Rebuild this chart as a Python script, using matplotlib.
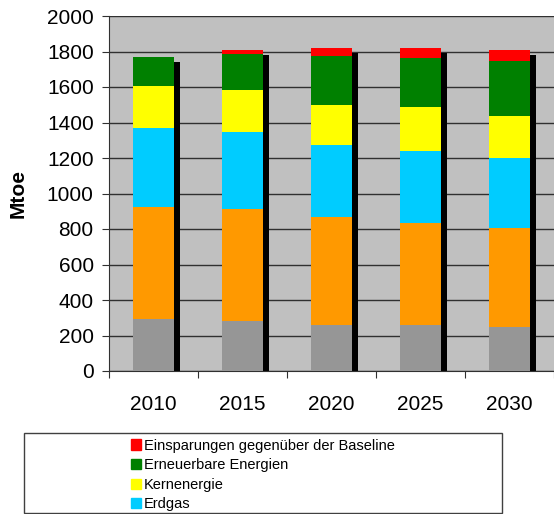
import matplotlib.pyplot as plt
import numpy as np
from matplotlib.patches import Patch, Rectangle

plt.rcParams['font.family'] = ['Liberation Sans', 'DejaVu Sans']

years = ['2010', '2015', '2020', '2025', '2030']
feste = [291, 282, 259, 259, 248]
oel = [631, 629, 609, 577, 556]
erdgas = [447, 437, 405, 405, 396]
kern = [237, 237, 224, 246, 235]
erneuerbar = [161, 203, 280, 278, 310]
einsparung = [0, 21, 43, 55, 64]
baseline = [1741, 1780, 1792, 1792, 1780]

series = [feste, oel, erdgas, kern, erneuerbar, einsparung]
colors = ['#969696', '#FF9900', '#00CCFF', '#FFFF00', '#008000', '#FF0000']
names = ['Feste Brennstoffe', 'Öl', 'Erdgas', 'Kernenergie',
         'Erneuerbare Energien', 'Einsparungen gegenüber der Baseline']

fig = plt.figure(figsize=(5.54, 5.14), dpi=100)
ax = fig.add_axes([109/554, 1-371/514, 1-109/554, 355/514])
ax.set_facecolor('#C0C0C0')

x = np.arange(len(years))
w = 0.45
bottom = np.zeros(len(years))
for vals, c in zip(series, colors):
    ax.bar(x, vals, w, bottom=bottom, color=c, zorder=3)
    bottom += np.array(vals)
ax.bar(x + w/2, baseline, 0.078, align='edge', color='black', zorder=2)

ax.set_xlim(-0.5, 4.5)
ax.set_ylim(0, 2000)
ax.set_yticks(range(0, 2001, 200))
ax.yaxis.grid(True, color='#303030', linewidth=1, zorder=1)
ax.tick_params(axis='y', labelsize=15, length=5, pad=6, direction='out', color='#303030')

ax.set_xticks(np.arange(-0.5, 4.6, 1))
ax.set_xticklabels([])
ax.tick_params(axis='x', which='major', length=5, color='#303030')
ax.set_xticks(x, minor=True)
ax.set_xticklabels(years, minor=True)
ax.tick_params(axis='x', which='minor', length=0, pad=17, labelsize=15)

for s in ['top', 'right']:
    ax.spines[s].set_visible(False)
ax.spines['left'].set_color('#303030')
ax.spines['bottom'].set_color('#303030')

ax.set_ylabel('Mtoe', fontsize=15, fontweight='bold', labelpad=14)

fig.patches.append(Rectangle((24/554, 1-513/514), 478/554, 80/514,
                             transform=fig.transFigure, fill=False,
                             edgecolor='#404040', linewidth=1))

handles = [Patch(color=colors[i]) for i in [5, 4, 3, 2]]
labels = [names[i] for i in [5, 4, 3, 2]]
fig.legend(handles, labels, loc='upper left', frameon=False,
           bbox_to_anchor=(119/554, 1-427/514), fontsize=10.5,
           handlelength=0.7, handleheight=0.7, handletextpad=0.2,
           labelspacing=0.38, borderpad=0.3)

fig.savefig('out.png', dpi=100)
